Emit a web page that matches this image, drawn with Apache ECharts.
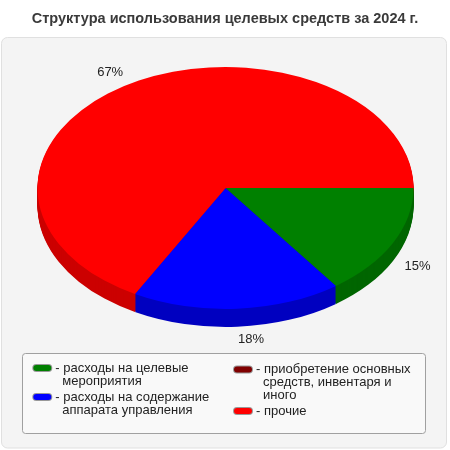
<!DOCTYPE html>
<html><head><meta charset="utf-8">
<script src="https://cdn.jsdelivr.net/npm/echarts@6/dist/echarts.min.js"></script>
<style>html,body{margin:0;padding:0;background:#fff}#c{width:450px;height:450px}</style>
</head><body><div id="c"></div><script>
const titleText = 'Структура использования целевых средств за 2024 г.';
const categories = [
  'расходы на целевые мероприятия',
  'расходы на содержание аппарата управления',
  'приобретение основных средств, инвентаря и иного',
  'прочие'
];
const legendLines = [
  ['- расходы на целевые', 'мероприятия'],
  ['- расходы на содержание', 'аппарата управления'],
  ['- приобретение основных', 'средств, инвентаря и', 'иного'],
  ['- прочие']
];
const values = [15, 18, 0, 67];
const topColors = ['#008000', '#0000ff', '#800000', '#ff0000'];
const sideColors = ['#006600', '#0000c0', '#600000', '#cc0000'];

// geometry of the tilted pie
const PIE = { cx: 225.5, cy: 188, rx: 188, ry: 121, depth: 18 };
const FONT = 'Arial, "Liberation Sans", sans-serif';

const total = values.reduce((a, b) => a + b, 0);
const startFrac = values.map((v, i) => values.slice(0, i).reduce((a, b) => a + b, 0) / total);

function renderSlice(i) {
  return function (params, api) {
    const v = api.value(0);
    if (!v) return { type: 'group', children: [] };
    const a0 = startFrac[i] * Math.PI * 2;
    const a1 = a0 + v / total * Math.PI * 2;
    const sy = PIE.ry / PIE.rx;
    const children = [];
    for (let k = PIE.depth; k >= 1; k--) {
      children.push({
        type: 'sector', silent: true,
        shape: { cx: PIE.cx, cy: 0, r: PIE.rx, r0: 0, startAngle: a0, endAngle: a1, clockwise: true },
        x: 0, y: PIE.cy + k, scaleY: sy,
        z2: PIE.depth - k + 1,
        style: { fill: sideColors[i] }
      });
    }
    children.push({
      type: 'sector',
      shape: { cx: PIE.cx, cy: 0, r: PIE.rx, r0: 0, startAngle: a0, endAngle: a1, clockwise: true },
      x: 0, y: PIE.cy, scaleY: sy,
      z2: 100,
      style: { fill: topColors[i] }
    });
    const m = (a0 + a1) / 2;
    const c = Math.cos(m), s = Math.sin(m);
    children.push({
      type: 'text', z2: 200,
      style: {
        text: Math.round(v / total * 100) + '%',
        x: PIE.cx + (PIE.rx + 13) * c,
        y: PIE.cy + (PIE.ry + 13) * s + (s > 0 ? PIE.depth : 0),
        align: c >= 0 ? 'left' : 'right',
        verticalAlign: 'middle',
        fill: '#222',
        font: '13px ' + FONT
      }
    });
    return { type: 'group', children: children };
  };
}

const rich = {
  g: { width: 4, lineHeight: 13 },
  ind: { width: 29, lineHeight: 13 },
  t: { fontSize: 13, fontFamily: FONT, color: '#222', lineHeight: 13 }
};
topColors.forEach((col, i) => {
  rich['s' + i] = { width: 18, height: 6, backgroundColor: col, borderColor: '#999', borderWidth: 1, borderRadius: 3, lineHeight: 13 };
});

function legendFormatter(name) {
  const i = categories.indexOf(name);
  return legendLines[i].map((l, j) => j === 0 ? '{s' + i + '| }{g| }{t|' + l + '}' : '{ind| }{t|' + l + '}').join('\n');
}

function makeLegend(names, left, top, gap) {
  return {
    data: names, orient: 'vertical', left: left, top: top, padding: 0,
    itemGap: gap, itemWidth: 0, itemHeight: 13, selectedMode: false,
    itemStyle: { opacity: 0, borderWidth: 0 },
    formatter: legendFormatter,
    textStyle: { rich: rich, fontSize: 13, fontFamily: FONT, color: '#222' }
  };
}

const chart = echarts.init(document.getElementById('c'), null, { renderer: 'canvas' });
chart.setOption({
  backgroundColor: '#ffffff',
  animation: false,
  title: {
    text: titleText, left: 'center', top: 11, padding: 0,
    textStyle: { fontSize: 14.5, fontWeight: 'bold', color: '#3a3a3a', fontFamily: FONT }
  },
  graphic: { elements: [
    { type: 'rect', z: 0, silent: true, shape: { x: 1.5, y: 37.5, width: 445, height: 410.5, r: 6 },
      style: { fill: '#f4f4f4', stroke: '#e0e0e0', lineWidth: 1 } },
    { type: 'rect', z: 1, silent: true, shape: { x: 22.5, y: 353.5, width: 403, height: 80, r: 3 },
      style: { fill: '#f9f9f9', stroke: '#a0a0a0', lineWidth: 1 } }
  ] },
  legend: [
    makeLegend([categories[0], categories[1]], 28.3, 361.5, 3),
    makeLegend([categories[2], categories[3]], 229, 363, 2.5)
  ],
  series: categories.map((name, i) => ({
    type: 'custom', name: name, coordinateSystem: 'none',
    itemStyle: { color: topColors[i] },
    renderItem: renderSlice(i),
    data: [[values[i]]]
  }))
});
</script></body></html>
